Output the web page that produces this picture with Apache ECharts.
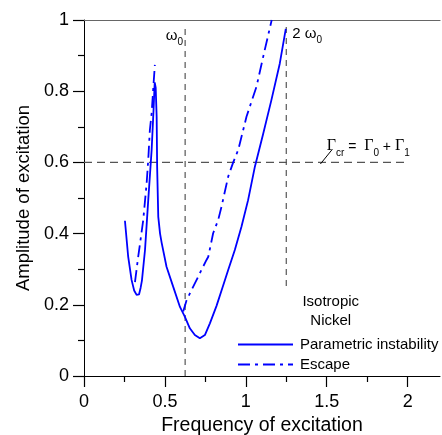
<!DOCTYPE html>
<html>
<head>
<meta charset="utf-8">
<script src="https://cdn.jsdelivr.net/npm/echarts@6/dist/echarts.min.js"></script>
<style>html,body{margin:0;padding:0;background:#fff;}#c{width:442px;height:435px;}</style>
</head>
<body>
<div id="c"></div>
<script>
// ---- data ----
const paramX = [0.253,0.273,0.294,0.310,0.325,0.340,0.350,0.358,0.377,0.397,0.418,0.430,0.437,0.443,0.449,0.452,0.459,0.470,0.480,0.510,0.551,0.593,0.623,0.654,0.685,0.716,0.747,0.778,0.819,0.860,0.891,0.932,0.973,1.014,1.056,1.107,1.158,1.210,1.247];
const paramY = [0.436,0.335,0.270,0.240,0.228,0.229,0.248,0.268,0.354,0.494,0.635,0.750,0.825,0.810,0.728,0.588,0.447,0.400,0.374,0.307,0.251,0.194,0.167,0.134,0.115,0.106,0.115,0.148,0.197,0.254,0.298,0.354,0.419,0.494,0.588,0.680,0.775,0.878,0.975];
const escLeftX = [0.315,0.335,0.352,0.366,0.387,0.397,0.407,0.418,0.430,0.438];
const escLeftY = [0.264,0.335,0.391,0.438,0.541,0.607,0.691,0.738,0.822,0.874];
const escRightX = [0.613,0.634,0.665,0.685,0.706,0.726,0.757,0.768,0.798,0.829,0.850,0.891,0.922,0.953,1.004,1.066,1.117,1.160];
const escRightY = [0.181,0.213,0.242,0.260,0.279,0.298,0.326,0.335,0.401,0.438,0.476,0.560,0.600,0.635,0.728,0.813,0.916,1.000];
const omega0 = 0.625;
const twoOmega0 = 1.25;
const gammaCr = 0.6;
const xMajorTicks = [0, 0.5, 1, 1.5, 2];
const xMinorTicks = [0.25, 0.75, 1.25, 1.75];
const seriesNames = ['Parametric instability', 'Escape'];

const zip = (xs, ys) => xs.map((x, i) => [x, ys[i]]);
const escData = zip(escLeftX, escLeftY).concat([['-', '-']], zip(escRightX, escRightY));

const SANS = '"Liberation Sans", Arial, Helvetica, sans-serif';
const SERIF = '"Liberation Serif", "Times New Roman", serif';
const refStyle = { color: '#555', width: 1.2, type: [6, 5] };

const chart = echarts.init(document.getElementById('c'), null, { renderer: 'canvas' });
chart.setOption({
  animation: false,
  backgroundColor: '#fff',
  textStyle: { fontFamily: SANS },
  grid: { left: 84, right: 2, top: 20, bottom: 59, containLabel: false, outerBoundsMode: 'none' },
  xAxis: [
    {
      type: 'value', min: 0, max: 2.2, position: 'bottom',
      name: 'Frequency of excitation', nameLocation: 'middle', nameGap: 40,
      nameTextStyle: { fontSize: 19.5, color: '#000', fontFamily: SANS },
      axisLine: { show: true, onZero: false, lineStyle: { color: '#000', width: 1 } },
      axisTick: { show: true, length: 11, customValues: xMajorTicks, lineStyle: { color: '#000', width: 1.2 } },
      axisLabel: { customValues: xMajorTicks, fontSize: 18, color: '#000', margin: 17, fontFamily: SANS },
      splitLine: { show: false }
    },
    {
      type: 'value', min: 0, max: 2.2, position: 'bottom',
      axisLine: { show: false },
      axisTick: { show: true, length: 6, customValues: xMinorTicks, lineStyle: { color: '#000', width: 1.2 } },
      axisLabel: { show: false },
      splitLine: { show: false }
    },
    {
      type: 'value', min: 0, max: 2.2, position: 'top',
      axisLine: { show: true, onZero: false, lineStyle: { color: '#666', width: 1.2 } },
      axisTick: { show: false }, axisLabel: { show: false }, splitLine: { show: false }
    }
  ],
  yAxis: {
    type: 'value', min: 0, max: 1, interval: 0.2,
    name: 'Amplitude of excitation', nameLocation: 'middle', nameGap: 47,
    nameTextStyle: { fontSize: 18.5, color: '#000', fontFamily: SANS },
    axisLine: { show: true, onZero: false, lineStyle: { color: '#000', width: 1 } },
    axisTick: { show: true, length: 11, lineStyle: { color: '#000', width: 1.2 } },
    minorTick: { show: true, splitNumber: 2, length: 6, lineStyle: { color: '#000', width: 1.2 } },
    axisLabel: { fontSize: 18, color: '#000', margin: 15, fontFamily: SANS,
      formatter: v => String(Math.round(v * 10) / 10) },
    splitLine: { show: false }
  },
  legend: {
    orient: 'vertical', left: 232, top: 332, itemWidth: 55, itemHeight: 14, itemGap: 5,
    data: seriesNames,
    itemStyle: { opacity: 0 },
    textStyle: { fontSize: 15, color: '#000', fontFamily: SANS, padding: [0, 0, 0, 2] }
  },
  series: [
    {
      name: 'ref-h', type: 'line', silent: true, symbol: 'none', xAxisIndex: 0,
      data: [[0, gammaCr], [2, gammaCr]], lineStyle: { color: '#555', width: 1.2, type: [8, 5] }, z: 1
    },
    {
      name: 'ref-w0', type: 'line', silent: true, symbol: 'none', xAxisIndex: 0,
      data: [[omega0, 0], [omega0, 0.985]], lineStyle: refStyle, z: 1
    },
    {
      name: 'ref-2w0', type: 'line', silent: true, symbol: 'none', xAxisIndex: 0,
      data: [[twoOmega0, 0.253], [twoOmega0, 0.985]], lineStyle: refStyle, z: 1
    },
    {
      name: 'ref-leader', type: 'line', silent: true, symbol: 'none', xAxisIndex: 0,
      data: [[1.461, 0.5955], [1.535, 0.637]], lineStyle: { color: '#000', width: 1 }, z: 1
    },
    {
      name: seriesNames[0], type: 'line', symbol: 'none', showSymbol: false, xAxisIndex: 0,
      data: zip(paramX, paramY), color: '#0000ff',
      lineStyle: { color: '#0000ff', width: 1.8 }, z: 3
    },
    {
      name: seriesNames[1], type: 'line', symbol: 'none', showSymbol: false, xAxisIndex: 0,
      data: escData, connectNulls: false, color: '#0000ff',
      lineStyle: { color: '#0000ff', width: 1.8, type: [12, 5, 3, 5] }, z: 3
    }
  ]
});

const px = (x, y) => chart.convertToPixel({ gridIndex: 0 }, [x, y]);
const pW0 = px(omega0, 0.95);
const p2W0 = px(twoOmega0, 0.955);
const pG = px(1.5, 0.64);
const pIso = px(1.525, 0.208);
const pNi = px(1.525, 0.154);
const subRich = {
  w: { fontSize: 15, fontFamily: SANS, fill: '#000', padding: [0, 0, 4, 0], verticalAlign: 'bottom' },
  n: { fontSize: 15, fontFamily: SANS, fill: '#000', padding: [0, 0, 4, 0], verticalAlign: 'bottom' },
  s: { fontSize: 10, fontFamily: SANS, fill: '#000', verticalAlign: 'bottom' },
  G: { fontSize: 16, fontFamily: SERIF, fill: '#000', padding: [0, 0, 4, 0], verticalAlign: 'bottom' },
  t: { fontSize: 14, fontFamily: SANS, fill: '#000', padding: [0, 0, 4, 0], verticalAlign: 'bottom' }
};
chart.setOption({
  graphic: [
    { type: 'text', x: pW0[0] - 2, y: pW0[1], style: { text: '{w|ω}{s|0}', rich: subRich, align: 'right', verticalAlign: 'middle' } },
    { type: 'text', x: p2W0[0] + 6, y: p2W0[1], style: { text: '{n|2 ω}{s|0}', rich: subRich, align: 'left', verticalAlign: 'middle' } },
    { type: 'text', x: pG[0], y: pG[1], style: { text: '{G|Γ}{s|cr}{t| =  }{G|Γ}{s|0}{t| + }{G|Γ}{s|1}', rich: subRich, align: 'left', verticalAlign: 'middle' } },
    { type: 'text', x: pIso[0], y: pIso[1], style: { text: 'Isotropic', font: '15px ' + SANS, fill: '#000', align: 'center', verticalAlign: 'middle' } },
    { type: 'text', x: pNi[0], y: pNi[1], style: { text: 'Nickel', font: '15px ' + SANS, fill: '#000', align: 'center', verticalAlign: 'middle' } }
  ]
});
</script>
</body>
</html>
